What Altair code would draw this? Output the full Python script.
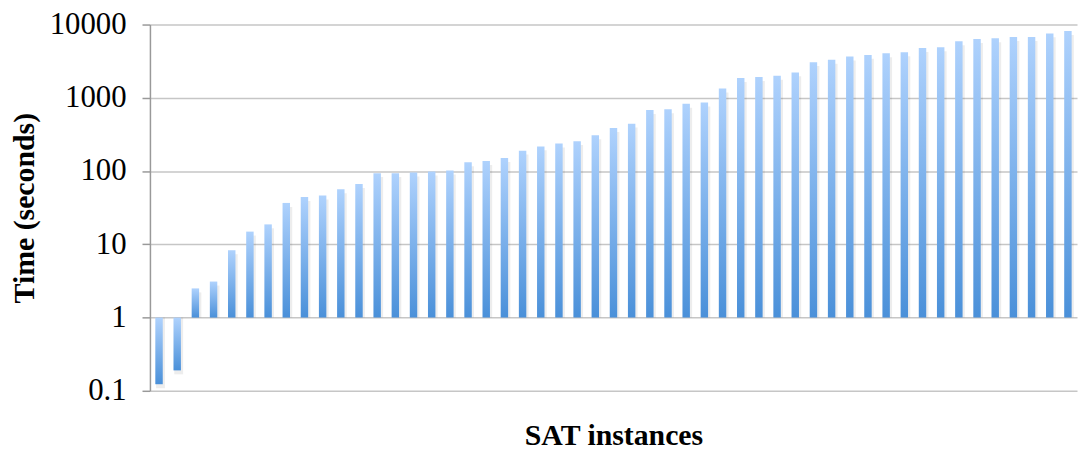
import altair as alt
import pandas as pd

# solve times per SAT instance, sorted (seconds)
times = [0.123, 0.19, 2.5, 3.1, 8.3, 14.9, 18.7, 36.7, 44.3, 46.2,
         56.3, 66.4, 93.6, 93.6, 95.5, 98.6, 101.6, 132, 137.5, 151,
         190, 217, 238, 256, 309, 388, 444, 680, 695, 829,
         864, 1336, 1862, 1922, 2004, 2222, 3067, 3298, 3657, 3854,
         4056, 4188, 4795, 4895, 5899, 6342, 6475, 6758, 6758, 7570,
         8140]
instances = list(range(1, len(times) + 1))
tick_values = [0.1, 1, 10, 100, 1000, 10000]

df = pd.DataFrame({'instance': instances, 'time': times})
df['base'] = 1

font = 'Liberation Serif'

x_enc = alt.X('instance:O', title='SAT instances',
              scale=alt.Scale(paddingInner=0, paddingOuter=0),
              axis=alt.Axis(labels=False, ticks=False, domain=False, grid=False,
                            titleFont=font, titleFontSize=30, titleFontWeight='bold',
                            titleColor='black', titlePadding=30))
y_enc = alt.Y('time:Q', title='Time (seconds)',
              scale=alt.Scale(type='log', domain=[0.1, 10000], nice=False),
              axis=alt.Axis(values=tick_values, format='~g',
                            labelFont=font, labelFontSize=31, labelColor='black',
                            labelPadding=16, tickSize=8, tickColor='#999999',
                            tickWidth=1.5, domainColor='#999999', domainWidth=1.5,
                            gridColor='#c6c6c6', gridWidth=1.5,
                            titleFont=font, titleFontSize=30, titleFontWeight='bold',
                            titleColor='black', titlePadding=10))

gradient = alt.Gradient(
    gradient='linear',
    stops=[alt.GradientStop(color='#afd2fd', offset=0),
           alt.GradientStop(color='#4a90d9', offset=1)],
    x1=0, x2=0, y1=0, y2=1)

shadow = alt.Chart(df).mark_bar(size=9, color='black', opacity=0.07,
                                xOffset=1.5, yOffset=4).encode(
    x=x_enc, y=y_enc, y2='base:Q')

bars = alt.Chart(df).mark_bar(size=7.5, color=gradient).encode(
    x=x_enc, y=y_enc, y2='base:Q')

chart = alt.layer(shadow, bars).properties(
    width=934, height=369,
    autosize=alt.AutoSizeParams(type='none'),
    padding={'left': 143, 'top': 15, 'right': 2, 'bottom': 62}
).configure_view(stroke=None)

chart.save("out.html", embed_options={"renderer": "svg", "actions": False})
